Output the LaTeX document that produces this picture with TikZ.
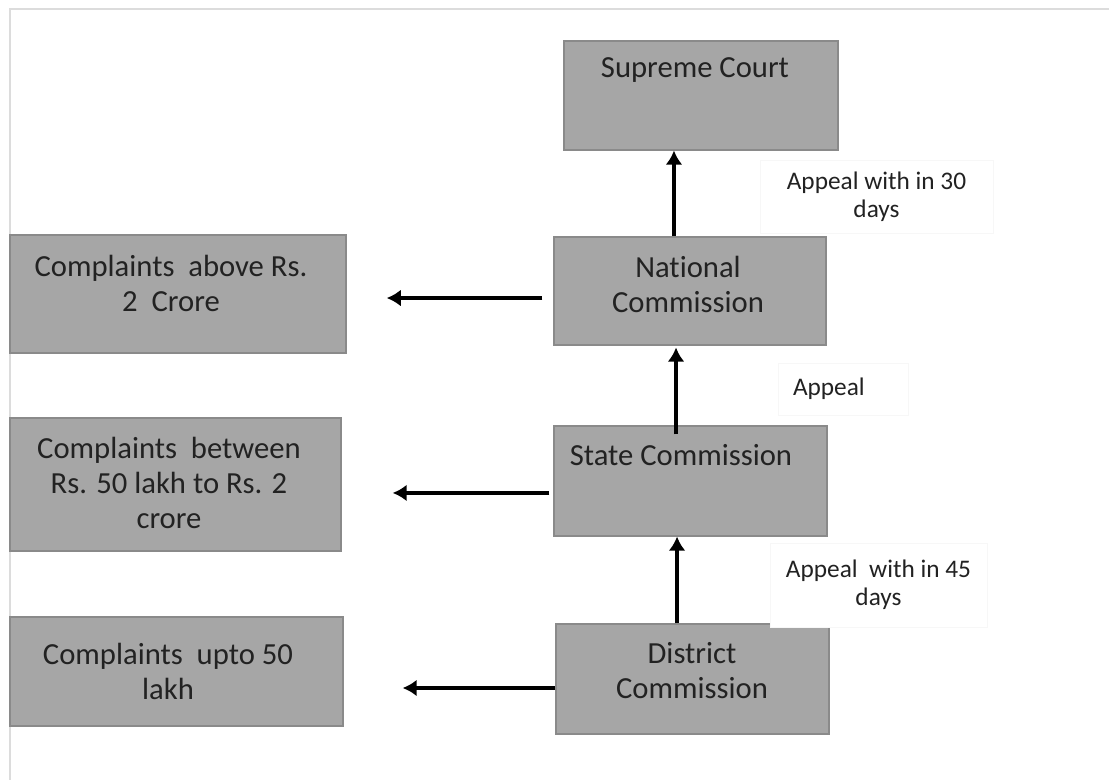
\documentclass[tikz,border=0pt]{standalone}
\usepackage{fontspec}
\setmainfont[RawFeature={-liga;-clig;-calt;-dlig}]{Carlito}
\usetikzlibrary{arrows.meta,positioning}
\definecolor{boxfill}{RGB}{166,166,166}
\definecolor{boxline}{RGB}{138,138,138}
\definecolor{inkgray}{RGB}{34,34,34}
\definecolor{framegray}{RGB}{220,220,220}

\begin{document}
\begin{tikzpicture}[x=0.025cm, y=-0.025cm,
	court/.style={draw=boxline, fill=boxfill, line width=0.8pt, inner sep=0pt},
	courttext/.style={align=center, inner sep=0pt, text=inkgray, font=\fontsize{21.8}{24.9}\selectfont},
	note/.style={draw=black!3, fill=white, inner sep=0pt, align=center, text=inkgray, font=\fontsize{18}{19.6}\selectfont},
	arr/.style={-{Latex[length=10pt,width=12pt]}, line width=3pt}]
	\useasboundingbox (0,0) rectangle (1109,780);
	\draw[framegray, line width=1pt] (10,780) -- (10,9) -- (1109,9);

	% Define the courts
	\node[court, minimum width=6.85cm, minimum height=2.725cm] (Supreme) at (701,95.5) {};
	\node[courttext] (SupremeText) at (695,70) {Supreme Court};
	\node[court, minimum width=6.8cm, minimum height=2.7cm] (National) at (690,291) {};
	\node[courttext] (NationalText) at (688,284) {National\\Commission};
	\node[court, minimum width=6.825cm, minimum height=2.75cm] (State) at (690.5,481) {};
	\node[courttext] (StateText) at (681,455) {State Commission};
	\node[court, minimum width=6.825cm, minimum height=2.75cm] (District) at (692.5,679) {};
	\node[courttext] (DistrictText) at (692,671) {District\\Commission};

	% Define the complaint limits
	\node[court, minimum width=8.4cm, minimum height=2.95cm] (Crore2) at (178,294) {};
	\node[courttext] (Crore2Text) at (171,283) {Complaints\ \ above Rs.\\2\ \ Crore};
	\node[court, minimum width=8.275cm, minimum height=3.325cm] (Lakh50to2) at (175.5,484.5) {};
	\node[courttext] (Lakh50to2Text) at (169,483) {Complaints\ \ between\\Rs. 50 lakh to Rs. 2\\crore};
	\node[court, minimum width=8.325cm, minimum height=2.725cm] (Lakh50) at (176.5,671.5) {};
	\node[courttext] (Lakh50Text) at (168,671) {Complaints\ \ upto 50\\lakh};

	% Define the appeals
	\node[note, minimum width=5.825cm, minimum height=1.825cm] (Appeal30) at (876.5,196.5) {Appeal with in 30\\days};
	\node[note, minimum width=3.25cm, minimum height=1.3cm, text width=2.5cm, align=left] (Appeal) at (843,389) {Appeal};
	\node[note, minimum width=5.425cm, minimum height=2.1cm] (Appeal45) at (878.5,585) {Appeal\ \ with in 45\\days};

	\draw[arr] ([xshift=-11.4pt]National.north) -- ([xshift=-11.4pt]National.north |- Supreme.south);
	\draw[arr, shorten <=-6.4pt, shorten >=1.4pt] ([xshift=-10.3pt]State.north) -- ([xshift=-10.3pt]State.north |- National.south);
	\draw[arr] ([xshift=-11pt]District.north) -- ([xshift=-11pt]District.north |- State.south);

	\draw[arr, shorten <=7.8pt, shorten >=28.5pt] ([yshift=-5pt]National.west) -- ([yshift=-5pt]National.west -| Crore2.east);
	\draw[arr, shorten <=2.8pt, shorten >=36.3pt] ([yshift=-8.5pt]State.west) -- ([yshift=-8.5pt]State.west -| Lakh50to2.east);
	\draw[arr, shorten >=42pt] ([yshift=-6.4pt]District.west) -- ([yshift=-6.4pt]District.west -| Lakh50.east);
\end{tikzpicture}
\end{document}
